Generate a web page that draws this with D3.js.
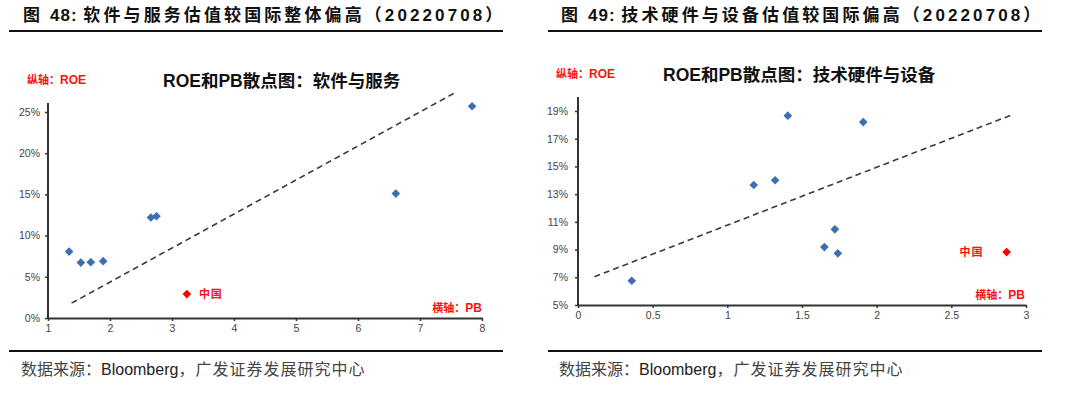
<!DOCTYPE html>
<html lang="zh">
  <head>
    <meta charset="utf-8">
    <title>ROE和PB散点图</title>
    <script src="https://d3js.org/d3.v7.js"></script>
    <style>
      body { margin: 0; background: white; }
      text { font-family: "Liberation Sans", Arial, "Noto Sans CJK SC", sans-serif; }
    </style>
  </head>
  <body>
    <script>
    const w = 1080;
    const h = 398;

    // chart 48: software & services (PB, ROE)
    const softPB  = [1.34, 1.53, 1.69, 1.89, 2.66, 2.75, 6.61, 7.84];
    const softROE = [0.0806, 0.0673, 0.0678, 0.069, 0.122, 0.1235, 0.151, 0.257];
    const softChina = [3.24, 0.029];
    const softTrend = [[1.38, 0.018], [7.58, 0.274]];
    const softXTicks = [1, 2, 3, 4, 5, 6, 7, 8];
    const softYTicks = [0, 0.05, 0.10, 0.15, 0.20, 0.25];

    // chart 49: tech hardware & equipment
    const hwPB  = [0.36, 1.177, 1.32, 1.405, 1.91, 1.72, 1.65, 1.74];
    const hwROE = [0.0675, 0.1366, 0.14, 0.1866, 0.182, 0.1046, 0.0918, 0.0873];
    const hwChina = [2.87, 0.0882];
    const hwTrend = [[0.11, 0.0704], [2.90, 0.187]];
    const hwXTicks = [0, 0.5, 1, 1.5, 2, 2.5, 3];
    const hwYTicks = [0.05, 0.07, 0.09, 0.11, 0.13, 0.15, 0.17, 0.19];

    const svg = d3.select("body")
      .append("svg")
      .attr("width", w)
      .attr("height", h);

    svg.append("rect")
      .attr("width", w)
      .attr("height", h)
      .attr("fill", "white");

    function header(x0, x1, textX, label, title) {
      const t = svg.append("text")
        .attr("x", textX)
        .attr("y", 20.5)
        .attr("font-size", 17)
        .attr("font-weight", "bold")
        .attr("letter-spacing", 3.1)
        .attr("fill", "#111");
      t.append("tspan").attr("font-family", "Noto Sans CJK SC").text("图 ");
      t.append("tspan").attr("letter-spacing", 1).text(" " + label + ": ");
      t.append("tspan").attr("font-family", "Noto Sans CJK SC").text(title + "（");
      t.append("tspan").text("20220708");
      t.append("tspan").attr("font-family", "Noto Sans CJK SC").text("）");

      svg.append("line")
        .attr("x1", x0).attr("x2", x1)
        .attr("y1", 31).attr("y2", 31)
        .attr("stroke", "#111").attr("stroke-width", 2);
      svg.append("line")
        .attr("x1", x0).attr("x2", x1)
        .attr("y1", 351).attr("y2", 351)
        .attr("stroke", "#111").attr("stroke-width", 2);

      const s = svg.append("text")
        .attr("x", textX - 2)
        .attr("y", 375)
        .attr("font-size", 16)
        .attr("fill", "#222");
      s.append("tspan").attr("font-family", "Noto Sans CJK SC").attr("fill", "#444").text("数据来源：");
      s.append("tspan").text("Bloomberg");
      s.append("tspan").attr("font-family", "Noto Sans CJK SC").attr("fill", "#444")
        .attr("letter-spacing", 1).text("，广发证券发展研究中心");
    }

    function panel(o) {
      const x = d3.scaleLinear().domain(o.xDomain).range(o.xRange);
      const y = d3.scaleLinear().domain(o.yDomain).range(o.yRange);
      const g = svg.append("g");

      // y axis
      const ya = g.append("g")
        .attr("transform", `translate(${o.xRange[0]},0)`)
        .call(d3.axisLeft(y).tickValues(o.yTicks).tickSize(3).tickSizeOuter(0)
          .tickFormat(d => Math.round(d * 100) + "%"));
      ya.select(".domain").remove();
      ya.selectAll("line").attr("stroke", "#333").attr("stroke-width", 1.5);
      ya.selectAll("text").attr("font-size", 10.5).attr("fill", "#444")
        .attr("x", -o.labelGap).attr("font-family", "Liberation Sans");

      g.append("line")
        .attr("x1", o.xRange[0]).attr("x2", o.xRange[0])
        .attr("y1", o.yRange[0]).attr("y2", o.yTop)
        .attr("stroke", "#333").attr("stroke-width", 2);

      // x axis
      const xa = g.append("g")
        .attr("transform", `translate(0,${o.yRange[0]})`)
        .call(d3.axisBottom(x).tickValues(o.xTicks).tickSize(3).tickSizeOuter(0)
          .tickFormat(d => d3.format("~g")(d)));
      xa.select(".domain").attr("stroke", "#333").attr("stroke-width", 2);
      xa.selectAll("line").attr("stroke", "#333").attr("stroke-width", 1.5);
      xa.selectAll("text").attr("font-size", 10.5).attr("fill", "#444")
        .attr("y", 7).attr("font-family", "Liberation Sans");

      // trend line
      g.append("path")
        .datum(o.trend)
        .attr("d", d3.line().x(d => x(d[0])).y(d => y(d[1])))
        .attr("fill", "none")
        .attr("stroke", "#3a3a3a")
        .attr("stroke-width", 1.6)
        .attr("stroke-dasharray", "6,4");

      const diamond = d3.symbol().type(d3.symbolDiamond2).size(48);

      g.selectAll("path.pt")
        .data(d3.zip(o.pb, o.roe))
        .join("path")
        .attr("class", "pt")
        .attr("d", diamond)
        .attr("transform", d => `translate(${x(d[0])},${y(d[1])})`)
        .attr("fill", "#3d6fb0");

      g.append("path")
        .attr("d", diamond)
        .attr("transform", `translate(${x(o.china[0])},${y(o.china[1])})`)
        .attr("fill", "#ff0000");

      g.append("text")
        .attr("x", x(o.china[0]) + o.chinaDx)
        .attr("y", y(o.china[1]) + 4)
        .attr("text-anchor", o.chinaDx > 0 ? "start" : "end")
        .attr("font-family", "Noto Sans CJK SC")
        .attr("font-size", 11)
        .attr("font-weight", "bold")
        .attr("letter-spacing", 1)
        .attr("fill", "#ff1010")
        .text("中国");

      // red axis notes
      const yl = g.append("text")
        .attr("x", o.yNote[0]).attr("y", o.yNote[1])
        .attr("font-size", 12).attr("font-weight", "bold").attr("fill", "#ff1010");
      yl.append("tspan").attr("font-family", "Noto Sans CJK SC").attr("font-size", 11).text("纵轴：");
      yl.append("tspan").text("ROE");

      const xl = g.append("text")
        .attr("x", o.xNote[0]).attr("y", o.xNote[1])
        .attr("text-anchor", "end")
        .attr("font-size", 12).attr("font-weight", "bold").attr("fill", "#ff1010");
      xl.append("tspan").attr("font-family", "Noto Sans CJK SC").attr("font-size", 11).text("横轴：");
      xl.append("tspan").text("PB");

      // chart title
      const t = g.append("text")
        .attr("x", o.titleX).attr("y", o.titleY)
        .attr("font-size", 17.5).attr("font-weight", "bold").attr("fill", "#111");
      t.append("tspan").text("ROE");
      t.append("tspan").attr("font-family", "Noto Sans CJK SC").text("和");
      t.append("tspan").text("PB");
      t.append("tspan").attr("font-family", "Noto Sans CJK SC").text(o.title);
    }

    header(9, 503, 23, "48", "软件与服务估值较国际整体偏高");
    header(548, 1042, 561, "49", "技术硬件与设备估值较国际偏高");

    panel({
      xDomain: [1, 8], xRange: [48, 482],
      yDomain: [0, 0.25], yRange: [318, 112], yTop: 103,
      xTicks: softXTicks, yTicks: softYTicks, labelGap: 8,
      pb: softPB, roe: softROE, china: softChina, chinaDx: 12,
      trend: softTrend,
      yNote: [27, 84], xNote: [482, 312],
      titleX: 163, titleY: 87, title: "散点图：软件与服务"
    });

    panel({
      xDomain: [0, 3], xRange: [578, 1026],
      yDomain: [0.05, 0.19], yRange: [305, 111], yTop: 97,
      xTicks: hwXTicks, yTicks: hwYTicks, labelGap: 10,
      pb: hwPB, roe: hwROE, china: hwChina, chinaDx: -23,
      trend: hwTrend,
      yNote: [556, 78], xNote: [1025, 299],
      titleX: 663, titleY: 81, title: "散点图：技术硬件与设备"
    });
    </script>
  </body>
</html>
